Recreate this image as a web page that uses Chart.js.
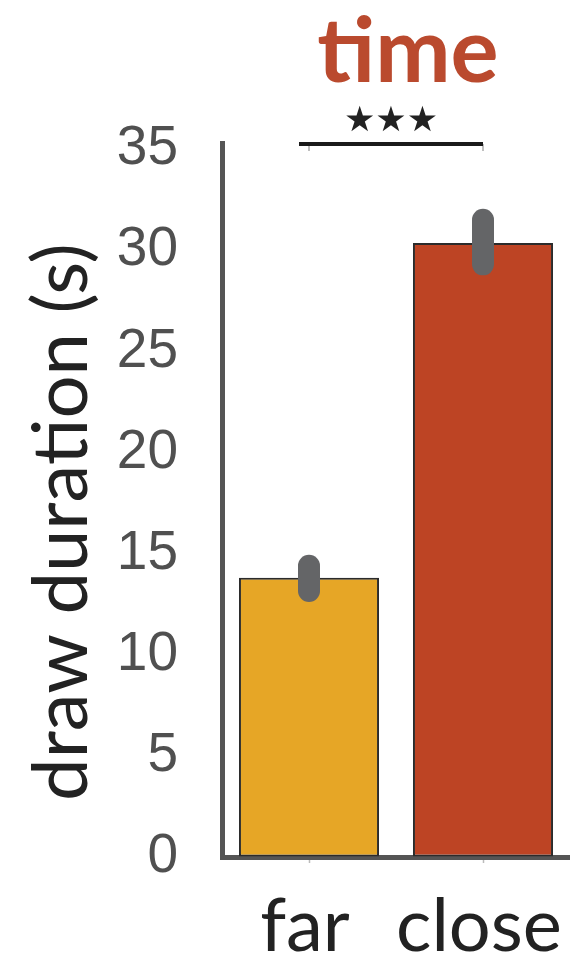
<!DOCTYPE html>
<html>
<head>
<meta charset="utf-8">
<script src="https://cdn.jsdelivr.net/npm/chart.js@4.4.1/dist/chart.umd.min.js"></script>
<style>
  html, body { margin: 0; padding: 0; background: #fff; }
</style>
</head>
<body>
<canvas id="chart" width="570" height="955"></canvas>
<script>
// data
const categories = ['far', 'close'];
const durations = [13.8, 30.35];
const errLow = [13.15, 29.3];
const errHigh = [14.4, 31.5];
const yTicks = [0, 5, 10, 15, 20, 25, 30, 35];
const yMax = 35.3;
const sigLevel = 35.25;
const chartTitle = 'time';
const yTitle = 'draw duration (s)';
const sigLabel = '★★★';
const barColors = ['#E6A626', '#BD4424'];

// error bars, significance bracket, titles
const extras = {
    id: 'extras',
    afterDatasetsDraw(chart) {
        const { ctx, scales: { y } } = chart;
        const meta = chart.getDatasetMeta(0);
        ctx.save();
        ctx.strokeStyle = '#646567';
        ctx.lineWidth = 22;
        ctx.lineCap = 'round';
        meta.data.forEach((bar, i) => {
            ctx.beginPath();
            ctx.moveTo(bar.x, y.getPixelForValue(errLow[i]));
            ctx.lineTo(bar.x, y.getPixelForValue(errHigh[i]));
            ctx.stroke();
        });
        ctx.restore();
    },
    afterDraw(chart) {
        const { ctx, scales: { x, y } } = chart;
        ctx.save();
        // significance bracket
        const sy = y.getPixelForValue(sigLevel);
        const x0 = x.getPixelForValue(0);
        const x1 = x.getPixelForValue(1);
        ctx.strokeStyle = '#aaa';
        ctx.lineWidth = 1.5;
        [x0, x1].forEach(px => {
            ctx.beginPath();
            ctx.moveTo(px, sy);
            ctx.lineTo(px, sy + 7);
            ctx.stroke();
        });
        ctx.strokeStyle = '#1a1a1a';
        ctx.lineWidth = 4;
        ctx.beginPath();
        ctx.moveTo(x0 - 10, sy);
        ctx.lineTo(x1, sy);
        ctx.stroke();

        ctx.fillStyle = '#222';
        ctx.font = '35px "DejaVu Sans"';
        ctx.textAlign = 'center';
        ctx.textBaseline = 'middle';
        ctx.fillText(sigLabel, (x0 - 10 + x1) / 2, sy - 22);

        // title
        ctx.fillStyle = '#BA4A2E';
        ctx.font = 'bold 90px Lato';
        ctx.textBaseline = 'alphabetic';
        ctx.fillText(chartTitle, 408, 82);

        // y axis title
        ctx.fillStyle = '#222';
        ctx.font = '76px Lato';
        ctx.translate(87, 522);
        ctx.rotate(-Math.PI / 2);
        ctx.fillText(yTitle, 0, 0);
        ctx.restore();
    }
};

const ctx = document.getElementById('chart').getContext('2d');
new Chart(ctx, {
    type: 'bar',
    data: {
        labels: categories,
        datasets: [{
            data: durations,
            backgroundColor: barColors,
            borderColor: '#2b2b2b',
            borderWidth: 2,
            borderSkipped: false,
            barPercentage: 0.805,
            categoryPercentage: 1
        }]
    },
    options: {
        responsive: false,
        animation: false,
        devicePixelRatio: 1,
        layout: { padding: { top: 143, right: 0, bottom: 0, left: 0 } },
        plugins: {
            legend: { display: false },
            tooltip: { enabled: false }
        },
        scales: {
            x: {
                afterFit: scale => {
                    scale.height = 98;
                    scale.paddingLeft = 0;
                    scale.paddingRight = 0;
                },
                grid: {
                    offset: false,
                    drawOnChartArea: false,
                    drawTicks: true,
                    tickLength: 6,
                    tickColor: '#bbb',
                    tickWidth: 1.5
                },
                border: { display: true, color: '#555', width: 5 },
                ticks: {
                    color: '#222',
                    font: { family: 'Lato', size: 74 },
                    padding: 20,
                    labelOffset: -4,
                    maxRotation: 0
                }
            },
            y: {
                min: 0,
                max: yMax,
                afterFit: scale => { scale.width = 222; },
                afterBuildTicks: scale => {
                    scale.ticks = yTicks.map(v => ({ value: v }));
                },
                grid: { drawOnChartArea: false, drawTicks: false },
                border: { display: true, color: '#555', width: 5 },
                ticks: {
                    color: '#505050',
                    font: { family: 'Liberation Sans', size: 55 },
                    padding: 44
                }
            }
        }
    },
    plugins: [extras]
});
</script>
</body>
</html>
